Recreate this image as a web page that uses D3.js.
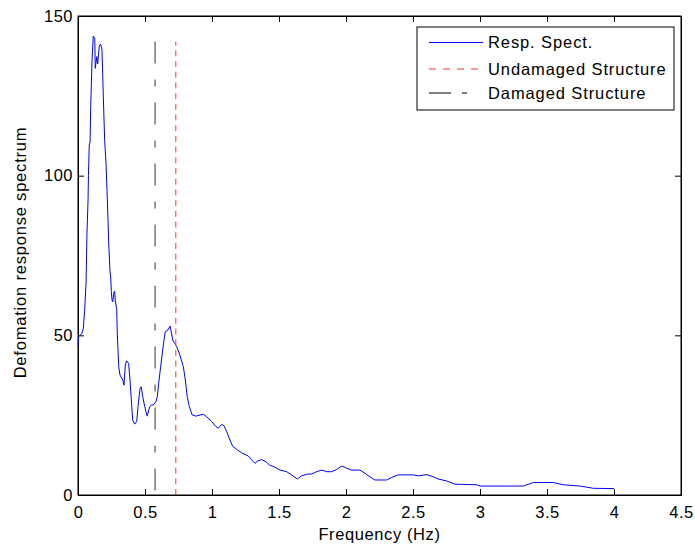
<!DOCTYPE html>
<html>
<head>
<meta charset="utf-8">
<script src="https://cdn.jsdelivr.net/npm/d3@7"></script>
<style>
  body { margin: 0; background: #fff; }
  svg { display: block; font-family: "Liberation Sans", Arial, sans-serif; }
</style>
</head>
<body>
<svg id="chart" width="695" height="544"></svg>
<script>
// frequency (Hz) and deformation response spectrum
const freq = [0, 0.005, 0.03, 0.04, 0.05, 0.06, 0.067, 0.075, 0.078, 0.084, 0.09, 0.095, 0.104, 0.114, 0.125, 0.129,
  0.14, 0.147, 0.159, 0.169, 0.179, 0.189, 0.199, 0.209, 0.219, 0.224, 0.229, 0.239, 0.244, 0.249, 0.254, 0.259,
  0.269, 0.274, 0.278, 0.289, 0.293, 0.304, 0.313, 0.334, 0.343, 0.353, 0.363, 0.378, 0.388, 0.398, 0.408, 0.423,
  0.438, 0.448, 0.463, 0.472, 0.483, 0.498, 0.507, 0.517, 0.528, 0.537, 0.547, 0.562, 0.582, 0.592, 0.602, 0.617,
  0.632, 0.642, 0.651, 0.672, 0.687, 0.696, 0.707, 0.722, 0.737, 0.756, 0.771, 0.786, 0.801, 0.816, 0.831, 0.851,
  0.881, 0.935, 0.96, 0.998, 1.03, 1.047, 1.072, 1.09, 1.11, 1.134, 1.154, 1.184, 1.222, 1.271, 1.296, 1.321,
  1.338, 1.371, 1.403, 1.428, 1.47, 1.507, 1.557, 1.595, 1.637, 1.669, 1.707, 1.744, 1.781, 1.819, 1.856, 1.893,
  1.931, 1.968, 2.005, 2.043, 2.104, 2.142, 2.179, 2.216, 2.304, 2.341, 2.39, 2.502, 2.54, 2.602, 2.652, 2.689,
  2.751, 2.813, 2.975, 3.0, 3.323, 3.398, 3.547, 3.622, 3.746, 3.846, 4.0]
const spectrum = [46.5, 49.6, 50.7, 52.3, 58, 66.4, 82, 92.4, 100, 109.6, 110.5, 121.6, 135.3, 143.7, 143, 133.6,
  137.3, 135, 140.6, 141.2, 139.4, 124.7, 111, 104, 92.4, 86, 78.9, 69.9, 68.4, 63.7, 61, 60.5,
  63.7, 63.7, 61, 58, 50.7, 40.2, 37.6, 36, 34.4, 40.7, 42, 41.2, 36, 29.8, 23.5, 22.2,
  23, 27.7, 33.4, 33.9, 30.8, 27.7, 26.1, 24.7, 26.6, 27.7, 28.2, 28.2, 29.2, 30.8, 35, 40.2,
  45.4, 48.5, 51.1, 51.7, 52.9, 51.1, 48.5, 47.5, 46.4, 44.4, 42.3, 40.2, 36, 30.5, 27.7, 25.1,
  24.7, 25.3, 24.5, 23, 21.4, 20.9, 22.1, 21.7, 19.8, 17.2, 15.3, 14.3, 13.2, 12.2, 11, 9.9,
  10.6, 11.1, 10.4, 9.4, 8.7, 7.8, 7.3, 6.3, 5, 6, 6.5, 6.6, 7.3, 7.8, 7.3, 7.3,
  8, 9.1, 8.4, 7.8, 7.8, 6.8, 5.7, 4.7, 4.7, 5.5, 6.3, 6.3, 6, 6.4, 5.7, 5,
  4.4, 3.4, 3.2, 2.8, 2.8, 3.9, 3.9, 3.2, 2.8, 2.1, 2]

const undamagedFreq = 0.73
const damagedFreq = 0.575
const markerTop = 142

const xTicks = [0, 0.5, 1, 1.5, 2, 2.5, 3, 3.5, 4, 4.5]
const yTicks = [0, 50, 100, 150]
const legendLabels = ["Resp. Spect.", "Undamaged Structure", "Damaged Structure"]

const svg = d3.select("#chart")
const plotLeft = 78, plotRight = 681, plotTop = 16, plotBottom = 495

const x = d3.scaleLinear().domain([0, 4.5]).range([plotLeft, plotRight])
const y = d3.scaleLinear().domain([0, 150]).range([plotBottom, plotTop])

const fontSize = "16.5px"

// inward ticks on all four sides, labels only bottom and left
svg.append("g").attr("transform", `translate(0,${plotBottom})`)
  .call(d3.axisBottom(x).tickValues(xTicks).tickSizeInner(-6).tickSizeOuter(0).tickPadding(11)
    .tickFormat(d3.format("~g")))
svg.append("g").attr("transform", `translate(0,${plotTop})`)
  .call(d3.axisTop(x).tickValues(xTicks).tickSizeInner(-6).tickSizeOuter(0).tickFormat(""))
svg.append("g").attr("transform", `translate(${plotLeft},0)`)
  .call(d3.axisLeft(y).tickValues(yTicks).tickSizeInner(-6).tickSizeOuter(0).tickPadding(5))
svg.append("g").attr("transform", `translate(${plotRight},0)`)
  .call(d3.axisRight(y).tickValues(yTicks).tickSizeInner(-6).tickSizeOuter(0).tickFormat(""))

svg.selectAll(".tick line").attr("stroke", "#000")
svg.selectAll(".domain").attr("stroke", "#000")
svg.selectAll(".tick text")
  .attr("fill", "#000").style("font-size", fontSize).style("letter-spacing", "0.5px")
  .style("font-family", "'Liberation Sans', Arial, sans-serif")

svg.append("rect")
  .attr("x", plotLeft).attr("y", plotTop).attr("width", plotRight - plotLeft).attr("height", plotBottom - plotTop)
  .attr("fill", "none").attr("stroke", "#000").attr("stroke-width", 1)

// spectrum line
const line = d3.line().x((d, i) => x(freq[i])).y(d => y(d))
svg.append("path").datum(spectrum)
  .attr("d", line).attr("fill", "none").attr("stroke", "#0000ff").attr("stroke-width", 1)

// reference frequencies
svg.append("line")
  .attr("x1", x(undamagedFreq)).attr("x2", x(undamagedFreq))
  .attr("y1", y(0)).attr("y2", y(markerTop))
  .attr("stroke", "#ff3030").attr("stroke-dasharray", "6,4.7")
svg.append("line")
  .attr("x1", x(damagedFreq)).attr("x2", x(damagedFreq))
  .attr("y1", y(markerTop)).attr("y2", y(0))
  .attr("stroke", "#333").attr("stroke-dasharray", "22,16,7,16")

// axis titles
svg.append("text")
  .attr("x", (plotLeft + plotRight) / 2).attr("y", 540)
  .attr("text-anchor", "middle").style("font-size", fontSize).style("letter-spacing", "0.6px")
  .text("Frequency (Hz)")
svg.append("text")
  .attr("transform", "translate(26,252.5) rotate(-90)")
  .attr("text-anchor", "middle").style("font-size", fontSize).style("letter-spacing", "0.8px")
  .text("Defomation response spectrum")

// legend
const legend = svg.append("g")
legend.append("rect")
  .attr("x", 417).attr("y", 27).attr("width", 257).attr("height", 83)
  .attr("fill", "#fff").attr("stroke", "#000")
const legendStyles = [
  {stroke: "#0000ff", dash: null},
  {stroke: "#ff3030", dash: "7,7"},
  {stroke: "#000", dash: "22,11,5,20"}
]
const legendY = [42.5, 69, 93]
legendLabels.forEach((label, i) => {
  legend.append("line")
    .attr("x1", 429).attr("x2", 483).attr("y1", legendY[i]).attr("y2", legendY[i])
    .attr("stroke", legendStyles[i].stroke)
    .attr("stroke-dasharray", legendStyles[i].dash)
  legend.append("text")
    .attr("x", 488).attr("y", legendY[i]).attr("dy", "0.35em")
    .style("font-size", fontSize).style("letter-spacing", "0.9px")
    .text(label)
})
</script>
</body>
</html>
